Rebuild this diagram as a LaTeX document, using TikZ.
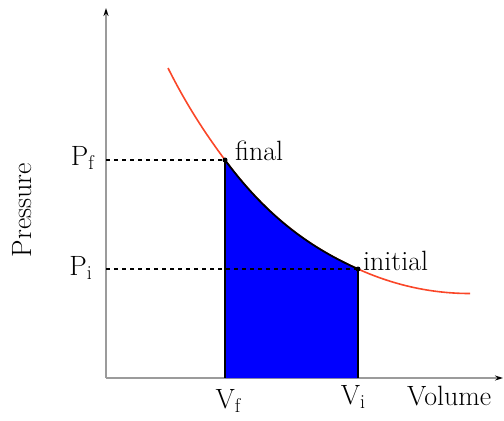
\documentclass[tikz,border=0pt]{standalone}
\usepackage{xcolor}
\usepackage{tikz}
\usetikzlibrary{arrows.meta, positioning}

\definecolor{curvered}{RGB}{250,70,40}
\definecolor{axisgray}{RGB}{155,155,155}
\newcommand{\qsub}[2]{#1\raisebox{-0.35ex}{\fontsize{20}{24}\selectfont #2}}

\begin{document}
\begin{tikzpicture}[
        x=1bp, y=-1bp,
        every node/.style={font=\fontsize{28}{34}\selectfont, inner sep=0pt},
        axis/.style={draw=axisgray, line width=1.6bp, -{Stealth[black, length=8bp, width=5bp]}},
        guide/.style={draw, line width=1.2bp, dash pattern=on 4bp off 4bp},
        isotherm/.style={draw=curvered, line width=1.6bp},
        bound/.style={draw, line width=1.8bp},
        dot/.style={circle, fill, inner sep=0pt, minimum size=5bp}
    ]
    \useasboundingbox (0,0) rectangle (504,420);
    \coordinate (origin) at (106,378);
    \coordinate (ytop) at (106,8);
    \coordinate (xend) at (503,378);
    \coordinate (curvestart) at (168,68);
    \coordinate (curveend) at (470,293.5);
    \coordinate (final) at (225,160);
    \coordinate (initial) at (358,269);
    \coordinate (pf) at (106,160);
    \coordinate (pi) at (106,269);
    \coordinate (vf) at (225,378);
    \coordinate (vi) at (358,378);
    % axes
    \draw[axis] (origin) -- (ytop);
    \draw[axis] (origin) -- (xend);
    % the curve
    \draw[isotherm] (curvestart) .. controls (187,106) and (206,134.4) .. (final)
        .. controls (269.3,219.8) and (313.7,249.1) .. (initial)
        .. controls (395.3,285.8) and (432.7,293.5) .. (curveend);
    % work done: area under the curve
    \fill[blue] (final) .. controls (269.3,219.8) and (313.7,249.1) .. (initial) -- (vi) -- (vf) -- cycle;
    \draw[bound] (final) .. controls (269.3,219.8) and (313.7,249.1) .. (initial);
    \draw[bound] (final) -- (vf);
    \draw[bound] (initial) -- (vi);
    \draw[guide] (pf) -- (final);
    \draw[guide] (pi) -- (initial);
    \node[dot] (finaldot) at (final) {};
    \node[dot] (initialdot) at (initial) {};
    % labels
    \node[anchor=base west] (finallbl) at (235,160) {final};
    \node[anchor=base west] (initiallbl) at (363,270) {initial};
    \node[anchor=base east] (pflbl) at (94,165) {\qsub{P}{f}};
    \node[anchor=base east] (pilbl) at (92,275) {\qsub{P}{i}};
    \node[anchor=base] (vflbl) at (228,408) {\qsub{V}{f}};
    \node[anchor=base] (vilbl) at (353,404) {\qsub{V}{i}};
    \node[anchor=base west] (volume) at (407,405) {Volume};
    \node[rotate=90] (pressure) at (22,210) {Pressure};
\end{tikzpicture}
\end{document}
